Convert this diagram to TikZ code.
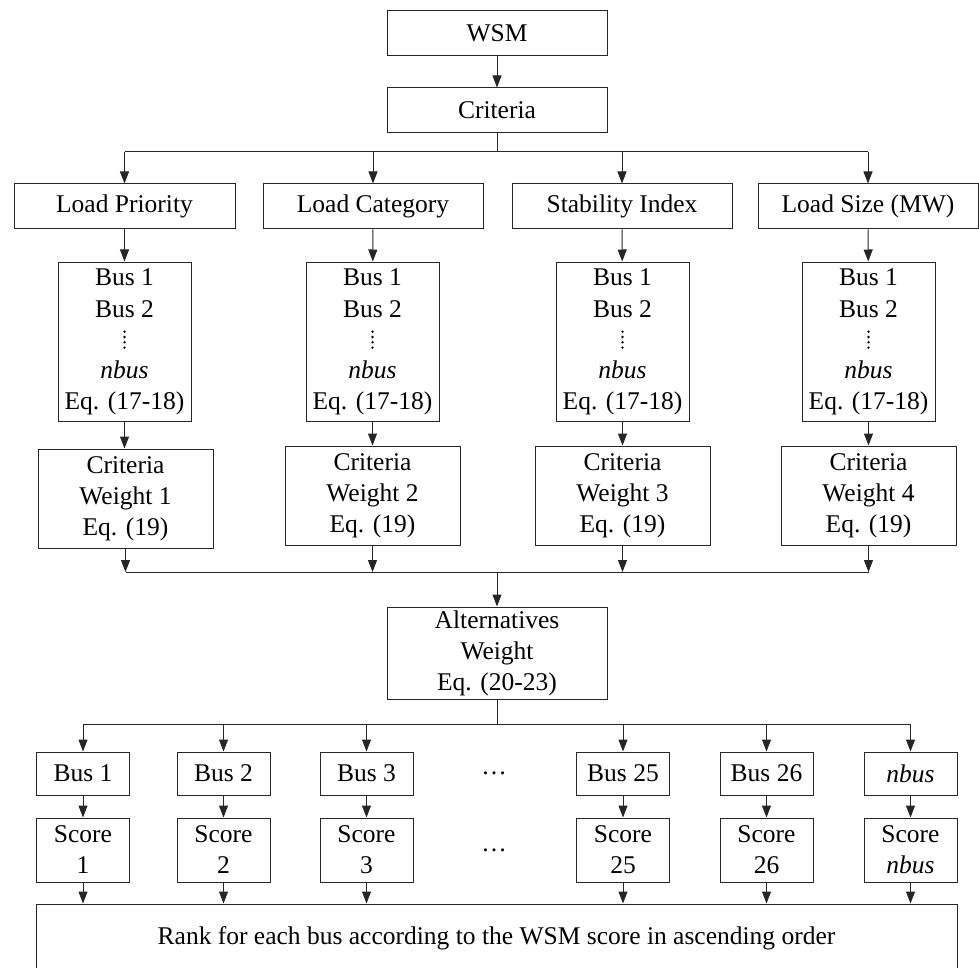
\documentclass[tikz,border=0pt]{standalone}
\usepackage{fontspec}
\setmainfont{Liberation Serif}
\usetikzlibrary{arrows.meta}
\begin{document}
\begin{tikzpicture}[x=1pt,y=-1pt,
  box/.style={draw=black!85,line width=1pt,align=center,inner sep=0pt,
    font=\fontsize{25.5}{31}\selectfont},
  txt/.style={align=center,inner sep=0pt,font=\fontsize{25.5}{31}\selectfont},
  arr/.style={draw=black!85,line width=1pt,-{Triangle[length=12pt,width=9pt]}},
  ln/.style={draw=black!85,line width=1pt}]
\useasboundingbox (0,0) rectangle (979,968);
\clip (0,0) rectangle (979,968);
% top
\node[box,minimum width=220,minimum height=45] (wsm) at (497,33.5) {WSM};
\node[box,minimum width=220,minimum height=45] (crit) at (497,110.5) {Criteria};
% criteria
\node[box,minimum width=221,minimum height=45] (lp) at (124.5,206.5) {Load Priority};
\node[box,minimum width=220,minimum height=45] (lc) at (373,206.5) {Load Category};
\node[box,minimum width=220,minimum height=45] (si) at (622,206.5) {Stability Index};
\node[box,minimum width=220,minimum height=45] (ls) at (868,206.5) {Load Size (MW)};
% bus lists
\foreach \n/\x in {1/124.5,2/372.5,3/622.5,4/868.5}{
  \node[box,minimum width=133,minimum height=159] (bl\n) at (\x,341.5)
    {Bus 1\\[1pt]Bus 2\\[30pt]\textit{nbus}\\Eq. (17-18)};
  \foreach \k in {0,1,2,3}{
    \fill[black] (bl\n.center) ++(0,-9.8+5.3*\k) circle[radius=1.3];
  }
}
% criteria weights
\node[box,minimum width=175,minimum height=99] (cw1) at (125.5,498.5) {Criteria\\Weight 1\\Eq. (19)};
\node[box,minimum width=175,minimum height=99] (cw2) at (372.5,495.5) {Criteria\\Weight 2\\Eq. (19)};
\node[box,minimum width=175,minimum height=99] (cw3) at (622.5,495.5) {Criteria\\Weight 3\\Eq. (19)};
\node[box,minimum width=175,minimum height=99] (cw4) at (868.5,495.5) {Criteria\\Weight 4\\Eq. (19)};
% alternatives
\node[box,minimum width=220,minimum height=92] (alt) at (497,653) {Alternatives\\Weight\\Eq. (20-23)};
% buses
\foreach \n/\x/\t in {1/83/Bus 1,2/223.5/Bus 2,3/366.5/Bus 3,25/623/Bus 25,26/766.5/Bus 26,n/910.5/\textit{nbus}}{
  \node[box,minimum width=93,minimum height=43] (bus\n) at (\x,773.5) {\t};
}
\foreach \n/\x/\t in {1/83/1,2/223.5/2,3/366.5/3,25/623/25,26/766.5/26,n/910.5/\textit{nbus}}{
  \node[box,minimum width=93,minimum height=64] (sc\n) at (\x,850) {Score\\\t};
}
\node[txt] (d1) at (494,773.5) {\dots};
\node[txt] (d2) at (494,850) {\dots};
\node[box,minimum width=921,minimum height=68] (rank) at (496.5,938)
  {Rank for each bus according to the WSM score in ascending order};
% connectors
\draw[arr] (wsm) -- (crit);
\coordinate (c1) at (497,152);
\draw[ln] (crit.south) -- (c1);
\draw[ln] (lp.north |- c1) -- (ls.north |- c1);
\foreach \b in {lp,lc,si,ls}{\draw[arr] (\b.north |- c1) -- (\b.north);}
\foreach \a/\b in {lp/bl1,lc/bl2,si/bl3,ls/bl4}{\draw[arr] (\a) -- (\b);}
\draw[arr] (bl1.south) -- (bl1.south |- cw1.north);
\draw[arr] (bl2) -- (cw2);
\draw[arr] (bl3) -- (cw3);
\draw[arr] (bl4) -- (cw4);
\coordinate (j) at (497,572);
\foreach \b in {cw1,cw2,cw3,cw4}{\draw[arr] (\b.south) -- (\b.south |- j);}
\draw[ln] (cw1.south |- j) -- (cw4.south |- j);
\draw[arr] (j) -- (alt.north);
\coordinate (c2) at (497,724);
\draw[ln] (alt.south) -- (c2);
\draw[ln] (bus1.north |- c2) -- (busn.north |- c2);
\foreach \n in {1,2,3,25,26,n}{
  \draw[arr] (bus\n.north |- c2) -- (bus\n.north);
  \draw[arr] (bus\n) -- (sc\n);
  \draw[arr] (sc\n.south) -- (sc\n.south |- rank.north);
}
\end{tikzpicture}
\end{document}
